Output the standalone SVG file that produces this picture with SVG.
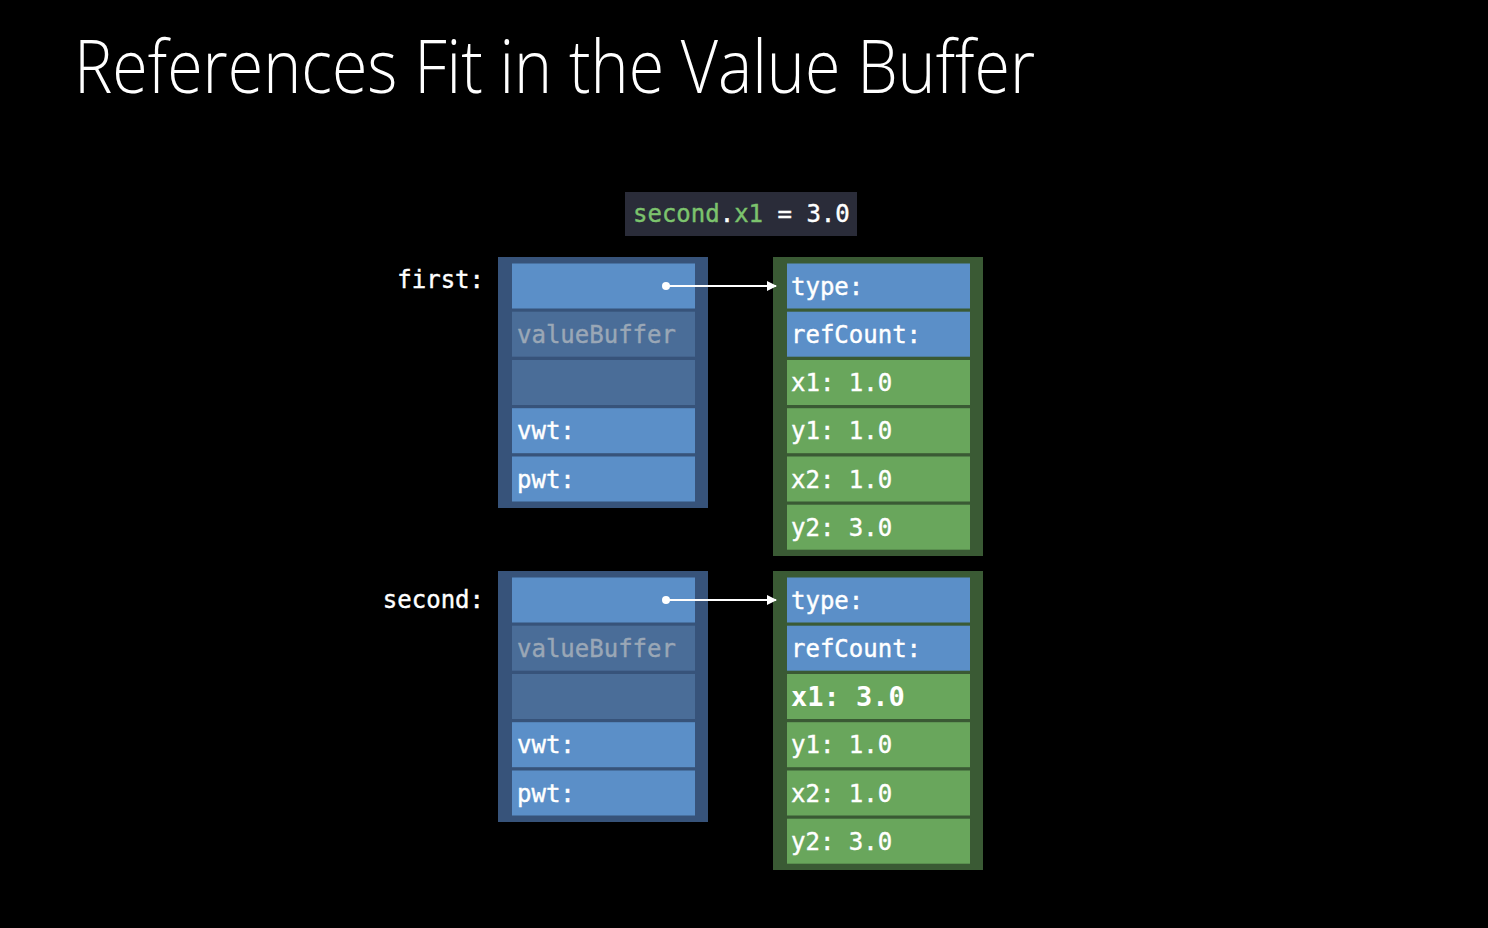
<svg xmlns="http://www.w3.org/2000/svg" width="1488" height="928" viewBox="0 0 1488 928">
  <defs>
    <style>
      .title { font-family: "Open Sans", "Liberation Sans", sans-serif; font-weight: 300; font-size: 73px; fill: #ffffff; }
      .mono { font-family: "DejaVu Sans Mono", "Liberation Mono", monospace; font-size: 24px; fill: #ffffff; stroke: #ffffff; stroke-width: 0.4; }
      .dim { fill: #9aa7b6; stroke: #9aa7b6; }
      .code-green { fill: #7cc36d; stroke: #7cc36d; }
      .bold { font-weight: bold; font-size: 27px; stroke-width: 0; }
      .box-ptr { fill: #37537a; }
      .box-obj { fill: #3a5a34; }
      .cell-blue { fill: #5b8fc8; }
      .cell-dim { fill: #4a6d98; }
      .cell-green { fill: #69a65c; }
      .conn { stroke: #ffffff; stroke-width: 2; fill: none; }
    </style>
    <marker id="arrow" viewBox="0 0 10 10" refX="9" refY="5" markerWidth="10" markerHeight="10" markerUnits="userSpaceOnUse" orient="auto">
      <path d="M0,0 L10,5 L0,10 z" fill="#ffffff"/>
    </marker>
  </defs>

  <rect width="1488" height="928" fill="#000000"/>

  <text class="title" x="74" y="93" textLength="961" lengthAdjust="spacingAndGlyphs">References Fit in the Value Buffer</text>

  <!-- statement being executed -->
  <g id="code">
    <rect x="625" y="192" width="232" height="44" fill="#2a2c39"/>
    <text class="mono" x="633" y="222"><tspan class="code-green">second</tspan>.<tspan class="code-green">x1</tspan> = 3.0</text>
  </g>

  <!-- existential container: first -->
  <g id="first">
    <text class="mono" x="484" y="288" text-anchor="end">first:</text>
    <rect class="box-ptr" x="498" y="257" width="210" height="251"/>
    <rect class="cell-blue" x="512" y="263.5" width="183" height="45"/>
    <rect class="cell-dim" x="512" y="311.7" width="183" height="45"/>
    <text class="mono dim" x="517" y="343">valueBuffer</text>
    <rect class="cell-dim" x="512" y="360" width="183" height="45"/>
    <rect class="cell-blue" x="512" y="408.2" width="183" height="45"/>
    <text class="mono" x="517" y="439">vwt:</text>
    <rect class="cell-blue" x="512" y="456.5" width="183" height="45"/>
    <text class="mono" x="517" y="488">pwt:</text>
  </g>

  <!-- heap object referenced by first -->
  <g id="first-object">
    <rect class="box-obj" x="773" y="257" width="210" height="299"/>
    <rect class="cell-blue" x="787" y="263.5" width="183" height="45"/>
    <text class="mono" x="791" y="295">type:</text>
    <rect class="cell-blue" x="787" y="311.7" width="183" height="45"/>
    <text class="mono" x="791" y="343">refCount:</text>
    <rect class="cell-green" x="787" y="360" width="183" height="45"/>
    <text class="mono" x="791" y="391">x1: 1.0</text>
    <rect class="cell-green" x="787" y="408.2" width="183" height="45"/>
    <text class="mono" x="791" y="439">y1: 1.0</text>
    <rect class="cell-green" x="787" y="456.5" width="183" height="45"/>
    <text class="mono" x="791" y="488">x2: 1.0</text>
    <rect class="cell-green" x="787" y="504.7" width="183" height="45"/>
    <text class="mono" x="791" y="536">y2: 3.0</text>
  </g>

  <!-- existential container: second -->
  <g id="second">
    <text class="mono" x="484" y="608" text-anchor="end">second:</text>
    <rect class="box-ptr" x="498" y="571" width="210" height="251"/>
    <rect class="cell-blue" x="512" y="577.5" width="183" height="45"/>
    <rect class="cell-dim" x="512" y="625.7" width="183" height="45"/>
    <text class="mono dim" x="517" y="657">valueBuffer</text>
    <rect class="cell-dim" x="512" y="674" width="183" height="45"/>
    <rect class="cell-blue" x="512" y="722.2" width="183" height="45"/>
    <text class="mono" x="517" y="753">vwt:</text>
    <rect class="cell-blue" x="512" y="770.5" width="183" height="45"/>
    <text class="mono" x="517" y="802">pwt:</text>
  </g>

  <!-- heap object referenced by second -->
  <g id="second-object">
    <rect class="box-obj" x="773" y="571" width="210" height="299"/>
    <rect class="cell-blue" x="787" y="577.5" width="183" height="45"/>
    <text class="mono" x="791" y="609">type:</text>
    <rect class="cell-blue" x="787" y="625.7" width="183" height="45"/>
    <text class="mono" x="791" y="657">refCount:</text>
    <rect class="cell-green" x="787" y="674" width="183" height="45"/>
    <text class="mono bold" x="791" y="706">x1: 3.0</text>
    <rect class="cell-green" x="787" y="722.2" width="183" height="45"/>
    <text class="mono" x="791" y="753">y1: 1.0</text>
    <rect class="cell-green" x="787" y="770.5" width="183" height="45"/>
    <text class="mono" x="791" y="802">x2: 1.0</text>
    <rect class="cell-green" x="787" y="818.7" width="183" height="45"/>
    <text class="mono" x="791" y="850">y2: 3.0</text>
  </g>

  <!-- references from value buffers to heap objects -->
  <g id="connectors">
    <circle cx="666" cy="286" r="4" fill="#ffffff"/>
    <line class="conn" x1="666" y1="286" x2="776" y2="286" marker-end="url(#arrow)"/>
    <circle cx="666" cy="600" r="4" fill="#ffffff"/>
    <line class="conn" x1="666" y1="600" x2="776" y2="600" marker-end="url(#arrow)"/>
  </g>
</svg>
